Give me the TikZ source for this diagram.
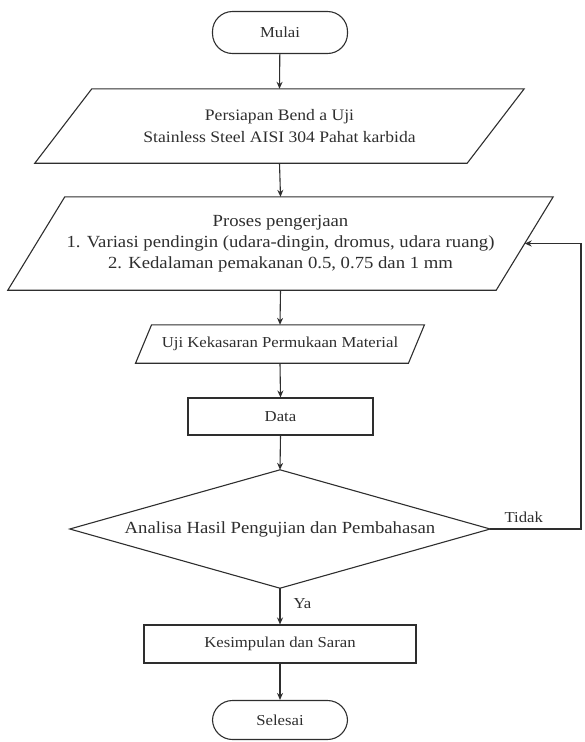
\documentclass[tikz,border=0pt]{standalone}
\usepackage{fontspec}
\setmainfont{Liberation Serif}[FakeStretch=1.1]
\usetikzlibrary{arrows.meta}
\definecolor{ink}{HTML}{2E2E2E}
\begin{document}
\begin{tikzpicture}[x=1pt,y=-1pt,
  every node/.style={text=ink,font=\fontsize{15.2}{21}\selectfont},
  bigtext/.style={font=\fontsize{17}{21}\selectfont},
  midtext/.style={font=\fontsize{16}{22}\selectfont},
  frame/.style={draw=ink,line width=1.1pt},
  shapebox/.style={inner sep=0pt,align=center},
  terminal/.style={shapebox,frame,rounded corners=20pt,minimum width=135pt,minimum height=42pt},
  procbox/.style={shapebox,frame,minimum height=38pt},
  flow/.style={draw=ink,line width=1.1pt,-{Stealth[length=7pt,width=6pt]}},
  lbl/.style={text=ink}]
\useasboundingbox (0,0) rectangle (584,742);
\node[terminal] (start) at (280,32.5) {Mulai};
\node[shapebox,midtext,minimum width=432pt,minimum height=74pt] (p1) at (279.5,126)
  {Persiapan Bend a Uji\\Stainless Steel AISI 304 Pahat karbida};
\node[shapebox,bigtext,minimum width=488pt,minimum height=93pt] (p2) at (280.5,243.5)
  {Proses pengerjaan\\1. Variasi pendingin (udara-dingin, dromus, udara ruang)\\2. Kedalaman pemakanan 0.5, 0.75 dan 1 mm};
\node[shapebox,minimum width=272.5pt,minimum height=38pt] (p3) at (280,344)
  {Uji Kekasaran Permukaan Material};
\node[procbox,minimum width=185pt,minimum height=37pt] (data) at (280.5,416.5) {Data};
\node[shapebox,bigtext,minimum width=420pt,minimum height=118pt] (dec) at (280,529)
  {Analisa Hasil Pengujian dan Pembahasan};
\node[procbox,minimum width=272pt] (kes) at (280,644) {Kesimpulan dan Saran};
\node[terminal,minimum height=39pt] (end) at (280,720) {Selesai};
% parallelograms and diamond
\draw[frame] ([xshift=-28.5pt]p1.south west) -- ([xshift=28.5pt]p1.north west) -- ([xshift=28.5pt]p1.north east) -- ([xshift=-28.5pt]p1.south east) -- cycle;
\draw[frame] ([xshift=-28.5pt]p2.south west) -- ([xshift=28.5pt]p2.north west) -- ([xshift=28.5pt]p2.north east) -- ([xshift=-28.5pt]p2.south east) -- cycle;
\draw[frame] ([xshift=-8pt]p3.south west) -- ([xshift=8pt]p3.north west) -- ([xshift=8pt]p3.north east) -- ([xshift=-8pt]p3.south east) -- cycle;
\draw[frame] (dec.north) -- (dec.east) -- (dec.south) -- (dec.west) -- cycle;
% connectors
\draw[flow] (start) -- (p1.north);
\draw[flow] (p1.south) -- (p2.north);
\draw[flow] (p2.south) -- (p3.north);
\draw[flow] (p3.south) -- (data.north);
\draw[flow] (data.south) -- (dec.north);
\draw[flow] (dec.south) -- (kes.north);
\draw[flow] (kes.south) -- (end.north);
\coordinate (rb) at (581,529);
\coordinate (rt) at (581,243.5);
\draw[flow] (dec.east) -- (rb) -- (rt) -- (p2.east);
\node[lbl,anchor=south west] (tidak) at (501,526) {Tidak};
\node[lbl,anchor=west] (ya) at (290,604) {Ya};
\end{tikzpicture}
\end{document}
